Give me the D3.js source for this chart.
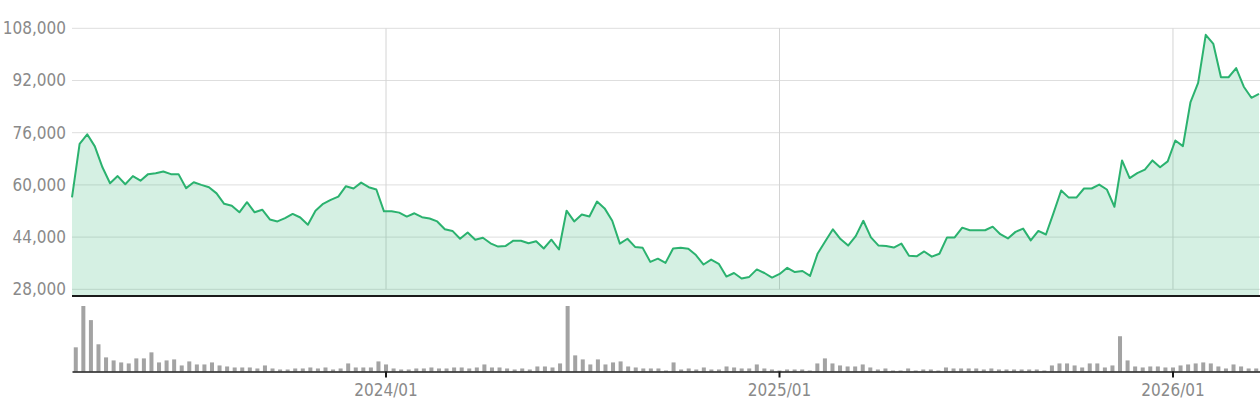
<!DOCTYPE html>
<html>
<head>
<meta charset="utf-8">
<script src="https://cdn.jsdelivr.net/npm/d3@7/dist/d3.min.js"></script>
<style>
  body { margin: 0; background: #fff; }
  svg { display: block; font-family: "DejaVu Sans Condensed", "Liberation Sans", sans-serif; }
</style>
</head>
<body>
<div id="chart"></div>
<script>
// weekly closes (KRW), one per Friday starting 2023-03-24
const startDate = new Date(2023, 2, 24);
const closes = [
  56200, 72600, 75500, 71800, 65400, 60500, 62700, 60200, 62700, 61300,
  63300, 63600, 64100, 63300, 63300, 59000, 60800, 60000, 59300, 57400,
  54200, 53600, 51600, 54700, 51600, 52400, 49400, 48800, 49800, 51100,
  50000, 47800, 52100, 54200, 55400, 56400, 59600, 58900, 60700, 59300,
  58600, 51900, 51900, 51500, 50300, 51300, 50100, 49700, 48800, 46400,
  45900, 43500, 45400, 43200, 43800, 42100, 41100, 41300, 42900, 42900,
  42100, 42700, 40500, 43200, 40200, 52100, 48800, 50900, 50300, 54900,
  52800, 49000, 42000, 43500, 41000, 40700, 36400, 37400, 36100, 40500,
  40700, 40400, 38500, 35600, 37100, 35800, 31900, 33000, 31300, 31800,
  34100, 33000, 31600, 32700, 34600, 33300, 33600, 32100, 39000, 42700,
  46400, 43400, 41400, 44300, 49000, 43900, 41400, 41300, 40800, 42000,
  38300, 38100, 39600, 38000, 38900, 43900, 43900, 46900, 46100, 46100,
  46100, 47200, 44900, 43600, 45600, 46600, 43000, 45900, 44800, 51400,
  58300, 56100, 56100, 58900, 58900, 60100, 58600, 53300, 67500, 62100,
  63600, 64700, 67500, 65400, 67200, 73600, 71900, 85400, 91300, 106000,
  103200, 93000, 93000, 95800, 90100, 86700, 87900
];
// weekly volume (relative units, no axis shown)
const volumes = [
  24, 65, 51, 27, 14, 11, 9, 8, 13, 13,
  19, 9, 11, 12, 6, 10, 7, 7, 9, 6,
  5, 4, 4, 4, 3, 6, 3, 2, 2, 3,
  3, 4, 3, 4, 2, 3, 8, 4, 4, 4,
  10, 7, 3, 2, 2, 3, 3, 4, 3, 3,
  4, 4, 3, 4, 7, 4, 4, 3, 2, 3,
  2, 5, 5, 4, 8, 65, 16, 12, 7, 12,
  7, 9, 10, 5, 4, 3, 3, 3, 1, 9,
  2, 3, 2, 4, 2, 2, 5, 4, 3, 3,
  7, 3, 2, 1, 2, 2, 2, 1, 8, 13,
  8, 6, 5, 5, 7, 4, 2, 3, 1, 1,
  3, 1, 2, 2, 1, 4, 3, 3, 3, 3,
  2, 3, 2, 2, 2, 2, 2, 2, 1, 6,
  8, 8, 6, 4, 8, 8, 4, 6, 35, 11,
  5, 4, 5, 5, 4, 4, 6, 7, 8, 9,
  8, 5, 3, 7, 5, 3, 3
];
const priceTicks = [28000, 44000, 60000, 76000, 92000, 108000];

const width = 1260, height = 400;
const plotLeft = 72, plotRight = 1260;
const priceBottom = 297;
const volTop = 306, volBottom = 371.5;

const dates = closes.map((d, i) => d3.timeDay.offset(startDate, i * 7));
const data = dates.map((d, i) => ({ date: d, close: closes[i], volume: volumes[i] }));

// first week of every new year gets a tick
const yearTicks = dates.filter((d, i) => i > 0 && d.getFullYear() !== dates[i - 1].getFullYear());

const svg = d3.select('#chart')
  .append('svg')
  .attr('width', width)
  .attr('height', height);

// scales
const xBand = d3.scaleBand()
  .domain(dates)
  .range([plotLeft, plotRight])
  .paddingInner(0.47)
  .paddingOuter(0.235);

const xPoint = d3.scalePoint()
  .domain(dates)
  .range([plotLeft, plotRight - 1]);

const y = d3.scaleLinear()
  .domain([28000, 108000])
  .range([289.3, 28.3]);

const yVol = d3.scaleLinear()
  .domain([0, d3.max(volumes)])
  .range([volBottom, volTop]);

const xc = d => xBand(d) + xBand.bandwidth() / 2;

// horizontal grid
svg.append('g')
  .selectAll('line')
  .data(priceTicks)
  .join('line')
  .attr('x1', plotLeft)
  .attr('x2', plotRight)
  .attr('y1', d => y(d))
  .attr('y2', d => y(d))
  .attr('stroke', '#dedede')
  .attr('stroke-width', 1);

// vertical grid at year ticks
svg.append('g')
  .selectAll('line')
  .data(yearTicks)
  .join('line')
  .attr('x1', d => xc(d))
  .attr('x2', d => xc(d))
  .attr('y1', y(108000))
  .attr('y2', y(28000))
  .attr('stroke', '#d4d4d4')
  .attr('stroke-width', 1);

// area + line
const area = d3.area()
  .x(d => xPoint(d.date))
  .y0(priceBottom)
  .y1(d => y(d.close));

svg.append('path')
  .datum(data)
  .attr('d', area)
  .attr('fill', 'rgba(43, 182, 115, 0.2)');

const line = d3.line()
  .x(d => xPoint(d.date))
  .y(d => y(d.close));

svg.append('path')
  .datum(data)
  .attr('d', line)
  .attr('fill', 'none')
  .attr('stroke', '#2bb26f')
  .attr('stroke-width', 2)
  .attr('stroke-linejoin', 'round');

// price panel bottom border
svg.append('line')
  .attr('x1', plotLeft)
  .attr('x2', plotRight)
  .attr('y1', priceBottom - 1)
  .attr('y2', priceBottom - 1)
  .attr('stroke', '#1a1a1a')
  .attr('stroke-width', 2);

// y labels
svg.append('g')
  .selectAll('text')
  .data(priceTicks)
  .join('text')
  .attr('x', 66)
  .attr('y', d => y(d))
  .attr('dy', '0.35em')
  .attr('text-anchor', 'end')
  .attr('fill', '#8a8a8a')
  .style('font-size', '17px')
  .text(d => d3.format(',')(d));

// volume bars
svg.append('g')
  .selectAll('rect')
  .data(data)
  .join('rect')
  .attr('x', d => xBand(d.date))
  .attr('y', d => yVol(d.volume))
  .attr('width', xBand.bandwidth())
  .attr('height', d => yVol(0) - yVol(d.volume))
  .attr('fill', '#a3a3a3');

// x axis
const xAxis = svg.append('g')
  .attr('transform', `translate(0,${volBottom})`)
  .call(d3.axisBottom(xBand)
    .tickValues(yearTicks)
    .tickFormat(d3.timeFormat('%Y/%m'))
    .tickSizeInner(6)
    .tickSizeOuter(0)
    .tickPadding(6));

xAxis.select('.domain')
  .attr('stroke', '#1a1a1a')
  .attr('stroke-width', 1.6);

xAxis.selectAll('.tick line')
  .attr('stroke', '#1a1a1a')
  .attr('stroke-width', 2);

xAxis.selectAll('.tick text')
  .attr('fill', '#8a8a8a')
  .style('font-size', '17px')
  .style('font-family', '"DejaVu Sans Condensed", "Liberation Sans", sans-serif');
</script>
</body>
</html>
